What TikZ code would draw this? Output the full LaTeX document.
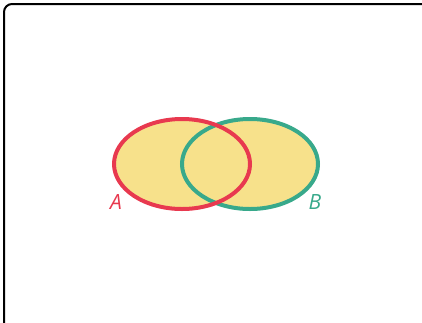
\documentclass[tikz,border=0pt]{standalone}
\usepackage{fontspec}
\setsansfont{Open Sans}
\usepackage{tikz}
\usetikzlibrary{positioning}
\definecolor{setred}{HTML}{E8394F}
\definecolor{setgreen}{HTML}{38A98B}
\definecolor{setfill}{HTML}{F7E18B}
\tikzset{
  setline/.style={line width=4pt},
  setlabel/.style={font=\sffamily\itshape\fontsize{21}{21}\selectfont}
}
\begin{document}
\begin{tikzpicture}[x=1pt,y=-1pt]
\useasboundingbox (0,0) rectangle (422,322);
\draw[line width=2pt,rounded corners=8pt] (4,4) rectangle (440,340);
%%%%%%%%%%%%%%%%%%%%%%%%%%%%%%%%%%%%%
\begin{scope}[shift={(182,164)}]
    \coordinate (A) at (0,0);
    \coordinate (B) at (68,0);
    \fill[setfill] (A) ellipse (68 and 45);
    \fill[setfill] (B) ellipse (68 and 45);
    %
    \draw[setline,setgreen] (B) ellipse (68 and 45);
    \draw[setline,setred] (A) ellipse (68 and 45);
    %
    \node[setlabel,text=setred] (labA) at (-66,38) {A};
    \node[setlabel,text=setgreen] (labB) at (133,38) {B};
\end{scope}
\end{tikzpicture}
\end{document}
